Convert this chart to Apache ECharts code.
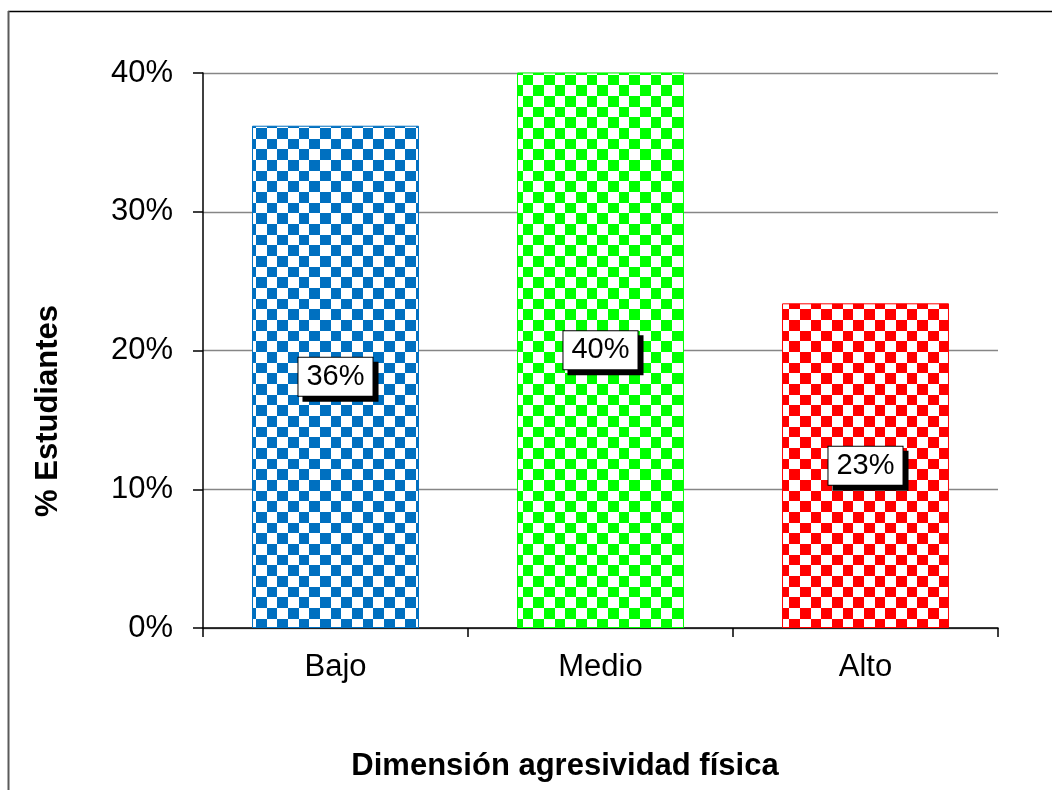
<!DOCTYPE html>
<html>
<head>
<meta charset="utf-8">
<script src="https://cdn.jsdelivr.net/npm/echarts@6/dist/echarts.min.js"></script>
<style>
html,body{margin:0;padding:0;background:#fff;}
#c{width:1052px;height:790px;}
</style>
</head>
<body>
<div id="c"></div>
<script>
const categories = ['Bajo', 'Medio', 'Alto'];
const values = [36.2, 40.4, 23.4];
const barColors = ['#0070C0', '#00FF00', '#FF0000'];
const yTicks = [0, 10, 20, 30, 40];
const yTitle = '% Estudiantes';
const xTitle = 'Dimensión agresividad física';

function checker(color) {
  const size = 64, n = 6, cell = size / n;
  const cv = document.createElement('canvas');
  cv.width = size; cv.height = size;
  const ctx = cv.getContext('2d');
  ctx.fillStyle = '#ffffff';
  ctx.fillRect(0, 0, size, size);
  ctx.fillStyle = color;
  for (let i = 0; i < n; i++) {
    for (let j = 0; j < n; j++) {
      if ((i + j) % 2 === 0) {
        const x0 = Math.round(i * cell), x1 = Math.round((i + 1) * cell);
        const y0 = Math.round(j * cell), y1 = Math.round((j + 1) * cell);
        ctx.fillRect(x0, y0, x1 - x0, y1 - y0);
      }
    }
  }
  return cv;
}

const chart = echarts.init(document.getElementById('c'), null, {renderer: 'canvas'});
const FONT = '"Liberation Sans", Arial, sans-serif';

chart.setOption({
  animation: false,
  backgroundColor: '#ffffff',
  grid: {left: 203, right: 54, top: 73, bottom: 162},
  xAxis: {
    type: 'category',
    data: categories,
    axisLine: {lineStyle: {color: '#000', width: 1.5}},
    axisTick: {show: true, length: 9, lineStyle: {color: '#000', width: 1.5}},
    axisLabel: {color: '#000', fontSize: 31, fontFamily: FONT, margin: 24}
  },
  yAxis: {
    type: 'value',
    min: yTicks[0],
    max: yTicks[yTicks.length - 1],
    interval: 10,
    axisLine: {show: true, lineStyle: {color: '#000', width: 1.5}},
    axisTick: {show: true, length: 10, lineStyle: {color: '#000', width: 1.5}},
    axisLabel: {color: '#000', fontSize: 31, fontFamily: FONT, margin: 30, formatter: v => v + '%'},
    splitLine: {show: true, lineStyle: {color: '#868686', width: 1.3}}
  },
  series: [{
    type: 'bar',
    barWidth: '63%',
    clip: true,
    data: values.map((v, i) => ({
      value: v,
      itemStyle: {
        color: {image: checker(barColors[i]), repeat: 'repeat'},
        borderColor: barColors[i],
        borderWidth: 1
      }
    })),
    label: {
      show: true,
      position: 'inside',
      formatter: p => Math.round(p.value) + '%',
      color: '#000',
      fontSize: 29,
      fontFamily: FONT,
      backgroundColor: '#fff',
      borderColor: '#000',
      borderWidth: 1,
      padding: [5, 8, 4, 8],
      shadowColor: '#000',
      shadowOffsetX: 5,
      shadowOffsetY: 5,
      shadowBlur: 0
    }
  }],
  graphic: [
    {type: 'line', shape: {x1: 8, y1: 11.5, x2: 1060, y2: 11.5}, style: {stroke: '#000', lineWidth: 1.5}, silent: true},
    {type: 'line', shape: {x1: 8.5, y1: 11, x2: 8.5, y2: 800}, style: {stroke: '#5a5a5a', lineWidth: 2}, silent: true},
    {type: 'text', x: 565, y: 766, style: {text: xTitle, font: 'bold 31px ' + FONT, fill: '#000', align: 'center', verticalAlign: 'middle'}},
    {type: 'text', x: 48, y: 411, rotation: Math.PI / 2, style: {text: yTitle, font: 'bold 31px ' + FONT, fill: '#000', align: 'center', verticalAlign: 'middle'}}
  ]
});
</script>
</body>
</html>
